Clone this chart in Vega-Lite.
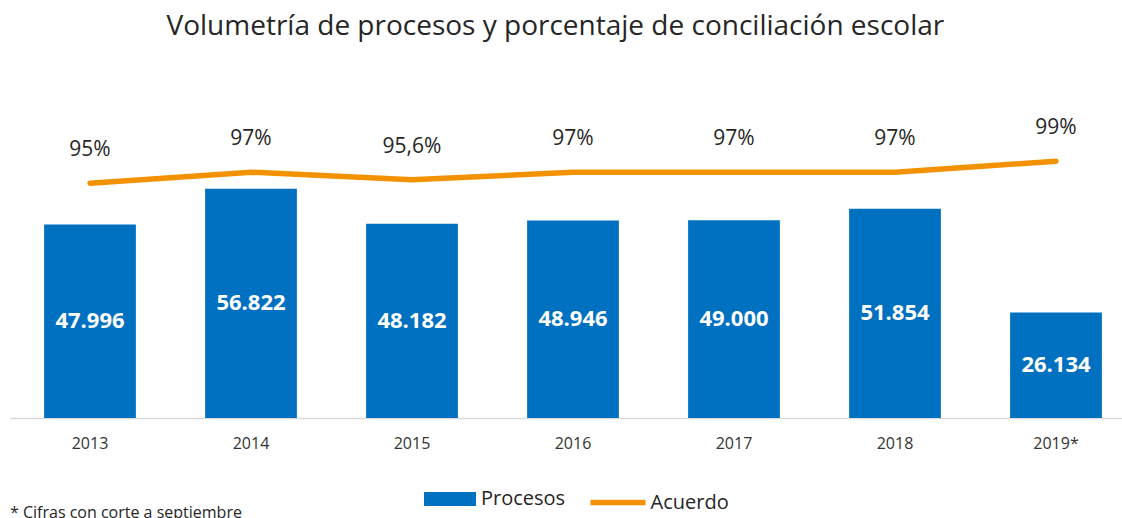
{
  "$schema": "https://vega.github.io/schema/vega-lite/v6.json",
  "width": 1127,
  "height": 363,
  "autosize": {"type": "none"},
  "padding": {"left": 9.5, "top": 55, "right": 0, "bottom": 100},
  "background": "white",
  "title": {
    "text": "Volumetría de procesos y porcentaje de conciliación escolar",
    "fontSize": 28,
    "fontWeight": "normal",
    "font": "Open Sans",
    "color": "#262626",
    "anchor": "start",
    "dx": 157,
    "offset": 14
  },
  "config": {
    "view": {"stroke": null},
    "font": "Open Sans",
    "locale": {
      "number": {"decimal": ",", "thousands": ".", "grouping": [3], "currency": ["", "€"]}
    }
  },
  "data": {
    "values": [
      {"year": "2013", "procesos": 47996, "acuerdo": 0.95},
      {"year": "2014", "procesos": 56822, "acuerdo": 0.97},
      {"year": "2015", "procesos": 48182, "acuerdo": 0.956},
      {"year": "2016", "procesos": 48946, "acuerdo": 0.97},
      {"year": "2017", "procesos": 49000, "acuerdo": 0.97},
      {"year": "2018", "procesos": 51854, "acuerdo": 0.97},
      {"year": "2019*", "procesos": 26134, "acuerdo": 0.99}
    ]
  },
  "encoding": {
    "x": {
      "field": "year",
      "type": "nominal",
      "sort": null,
      "scale": {"paddingInner": 0.43, "paddingOuter": 0.215},
      "axis": {
        "labelAngle": 0,
        "labelFontSize": 16,
        "labelColor": "#333333",
        "labelPadding": 17,
        "ticks": false,
        "domainColor": "#d9d9d9",
        "domainWidth": 1.5,
        "title": "* Cifras con corte a septiembre",
        "titleAnchor": "start",
        "titleFontSize": 16,
        "titleFontWeight": "normal",
        "titleColor": "#262626",
        "titlePadding": 53
      }
    }
  },
  "layer": [
    {
      "mark": {"type": "bar"},
      "encoding": {
        "y": {"field": "procesos", "type": "quantitative", "scale": {"domain": [0, 90000]}, "axis": null},
        "color": {
          "datum": "Procesos",
          "scale": {"range": ["#0070C0"]},
          "legend": {
            "title": null,
            "orient": "none",
            "legendX": 413.5,
            "legendY": 417,
            "symbolType": "M-1,-0.27H1V0.27H-1Z",
            "symbolSize": 2704,
            "symbolOpacity": 1,
            "labelFontSize": 20,
            "labelColor": "#262626",
            "labelOffset": 4,
            "padding": 0
          }
        }
      }
    },
    {
      "mark": {"type": "text", "color": "white", "fontWeight": "bold", "fontSize": 22, "baseline": "middle"},
      "encoding": {
        "y": {"field": "procesos", "type": "quantitative", "scale": {"domain": [0, 180000]}, "axis": null},
        "text": {"field": "procesos", "type": "quantitative", "format": ","}
      }
    },
    {
      "mark": {"type": "line", "strokeWidth": 5.5, "strokeCap": "round"},
      "encoding": {
        "y": {"field": "acuerdo", "type": "quantitative", "scale": {"domain": [0.523, 1.183]}, "axis": null},
        "stroke": {
          "datum": "Acuerdo",
          "scale": {"range": ["#F39200"]},
          "legend": {
            "title": null,
            "orient": "none",
            "legendX": 578,
            "legendY": 417,
            "symbolType": "stroke",
            "symbolSize": 3025,
            "symbolStrokeWidth": 5.5,
            "labelFontSize": 20,
            "labelColor": "#262626",
            "labelOffset": 2,
            "padding": 0
          }
        }
      }
    },
    {
      "mark": {"type": "text", "color": "#262626", "fontSize": 21, "baseline": "middle", "dy": -33},
      "encoding": {
        "y": {"field": "acuerdo", "type": "quantitative", "scale": {"domain": [0.523, 1.183]}, "axis": null},
        "text": {"field": "acuerdo", "type": "quantitative", "format": ".3~%"}
      }
    }
  ],
  "resolve": {"scale": {"y": "independent"}}
}
